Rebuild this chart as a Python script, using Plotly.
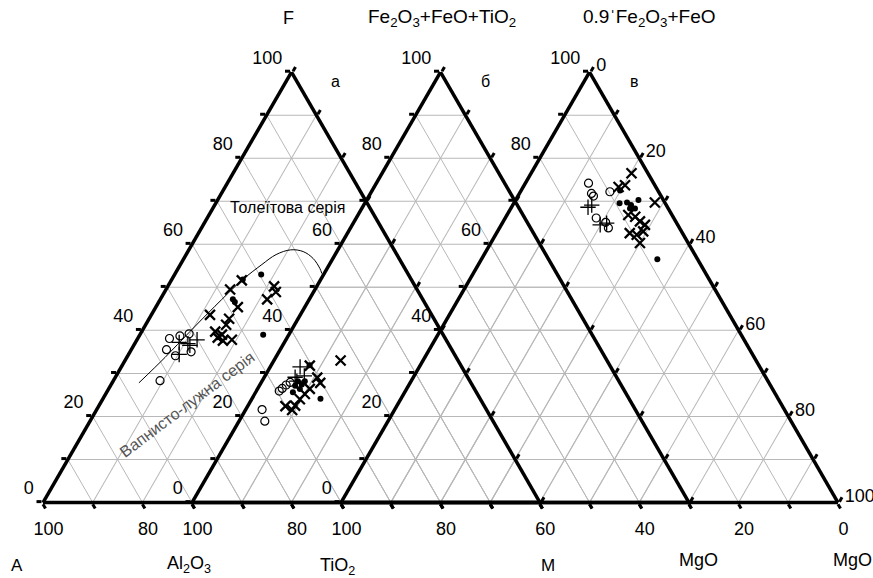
import plotly.graph_objects as go

W, H = 873, 578

# ---------------- data (ternary: a = top, b = bottom-left, c = bottom-right) ----------------
# Triangle "а": F (top), A (left), M (right)
a_circ_F = [38.1, 38.7, 39.2, 35.5, 34.1, 35.0, 28.3]
a_circ_A = [55.5, 53.1, 51.0, 57.4, 56.3, 52.7, 62.3]
a_circ_M = [6.4, 8.2, 9.8, 7.1, 9.6, 12.3, 9.4]

a_plus_F = [37.2, 36.9, 37.8, 34.4, 36.5]
a_plus_A = [54.0, 52.4, 50.1, 55.4, 52.2]
a_plus_M = [8.8, 10.7, 12.1, 10.2, 11.3]

a_x_F = [51.6, 49.5, 45.4, 43.6, 42.7, 41.3, 39.7, 38.3, 37.6, 37.8, 50.2, 48.9, 47.2, 39.0]
a_x_A = [34.2, 37.6, 38.1, 44.6, 41.2, 42.5, 45.5, 45.7, 45.0, 43.1, 28.4, 28.7, 31.3, 44.5]
a_x_M = [14.2, 12.9, 16.5, 11.8, 16.1, 16.2, 14.8, 16.0, 17.4, 19.1, 21.4, 22.4, 21.5, 16.5]

a_dot_F = [53.0, 47.2, 46.6, 39.0, 51.8]
a_dot_A = [29.6, 38.2, 38.1, 36.2, 33.9]
a_dot_M = [17.4, 14.6, 15.3, 24.8, 14.3]

# boundary line between tholeiitic and calc-alkaline series
curve_F = [27.8, 33.7, 39.7, 45.6, 51.6, 55.3, 57.6, 58.7, 58.3, 56.7, 54.4, 53.2]
curve_A = [66.8, 58.6, 50.6, 42.6, 34.2, 28.3, 24.3, 20.8, 18.5, 17.3, 17.1, 17.3]
curve_M = [5.4, 7.7, 9.7, 11.8, 14.2, 16.4, 18.1, 20.5, 23.2, 26.0, 28.5, 29.5]

# Triangle "б": Fe2O3+FeO+TiO2 (top), Al2O3 (left), MgO (right)
b_circ_T = [26.5, 27.3, 27.9, 21.6, 18.9, 25.9]
b_circ_L = [68.6, 67.4, 66.3, 75.1, 75.9, 69.5]
b_circ_R = [4.9, 5.3, 5.8, 3.3, 5.2, 4.6]

b_plus_T = [31.5, 29.1, 29.4, 28.2]
b_plus_L = [62.5, 64.7, 62.7, 64.8]
b_plus_R = [6.0, 6.2, 7.9, 7.0]

b_x_T = [31.8, 33.0, 29.0, 27.8, 22.4, 21.5, 24.0, 25.2, 26.4, 22.5]
b_x_L = [60.4, 53.6, 60.3, 60.3, 70.0, 69.1, 66.3, 64.7, 63.1, 68.0]
b_x_R = [7.8, 13.4, 10.7, 11.9, 7.6, 9.4, 9.7, 10.1, 10.5, 9.5]

b_dot_T = [28.2, 27.4, 27.1, 28.2, 25.6, 24.1, 31.9, 26.4]
b_dot_L = [64.6, 64.2, 65.7, 63.2, 66.9, 62.1, 60.4, 65.1]
b_dot_R = [7.2, 8.4, 7.2, 8.6, 7.5, 13.8, 7.7, 8.5]

# Triangle "в": 0.9*Fe2O3+FeO (top), TiO2 (left), MgO (right)
c_circ_T = [74.2, 71.8, 71.2, 72.2, 66.1, 63.8, 65.1]
c_circ_L = [13.1, 13.7, 13.6, 9.8, 15.6, 14.3, 14.2]
c_circ_R = [12.7, 14.5, 15.2, 18.0, 18.3, 21.9, 20.7]

c_plus_T = [69.1, 64.5, 64.9, 68.6]
c_plus_L = [15.0, 15.6, 14.1, 16.0]
c_plus_R = [15.9, 19.9, 21.0, 15.4]

c_x_T = [76.5, 73.7, 73.3, 69.7, 66.8, 66.4, 65.3, 64.5, 62.6, 62.2, 63.0, 60.3]
c_x_L = [3.3, 6.0, 7.5, 2.0, 8.8, 7.6, 7.2, 6.6, 10.6, 9.4, 7.7, 9.7]
c_x_R = [20.2, 20.3, 19.2, 28.3, 24.4, 26.0, 27.5, 28.9, 26.8, 28.4, 29.3, 30.0]

c_dot_T = [72.5, 69.5, 69.7, 69.1, 70.3, 68.3, 68.3, 56.5]
c_dot_L = [7.6, 9.2, 7.6, 7.1, 5.0, 6.7, 7.7, 8.1]
c_dot_R = [19.9, 21.3, 22.7, 23.8, 24.7, 25.0, 24.0, 35.4]

tick_vals = list(range(0, 101, 10))
tick_names = ["0", "", "20", "", "40", "", "60", "", "80", "", "100"]
bottom_shown = {"а": {80, 100}, "б": {80, 100}, "в": set(range(0, 101, 20))}

# left labels sit slightly above their ticks
left_labels = [t + "<br> " if t else "" for t in tick_names]
right_labels = list(tick_names)

def bottom_labels(key):
    return [t if (t and v in bottom_shown[key]) else ""
            for v, t in zip(tick_vals, tick_names)]

no_labels = [""] * 11

FONT = "Liberation Sans, Arial, sans-serif"

# ---------------- figure ----------------
fig = go.Figure()

# empty traces so that the grid-only subplots get drawn
for sub in ["ternary", "ternary2", "ternary3"]:
    fig.add_trace(go.Scatterternary(a=[], b=[], c=[], subplot=sub, showlegend=False,
                                    hoverinfo="skip"))

def add_set(sub, T, L, R, symbol, size, lw):
    fig.add_trace(go.Scatterternary(
        a=T, b=L, c=R, mode="markers", subplot=sub, showlegend=False,
        marker=dict(symbol=symbol, size=size, color="black",
                    line=dict(color="black", width=lw)),
        cliponaxis=False))

# data live on the overlay subplots (4,5,6) so they sit above every grid
for sub, sets in [
    ("ternary4", [(a_circ_F, a_circ_A, a_circ_M), (a_plus_F, a_plus_A, a_plus_M),
                  (a_x_F, a_x_A, a_x_M), (a_dot_F, a_dot_A, a_dot_M)]),
    ("ternary5", [(b_circ_T, b_circ_L, b_circ_R), (b_plus_T, b_plus_L, b_plus_R),
                  (b_x_T, b_x_L, b_x_R), (b_dot_T, b_dot_L, b_dot_R)]),
    ("ternary6", [(c_circ_T, c_circ_L, c_circ_R), (c_plus_T, c_plus_L, c_plus_R),
                  (c_x_T, c_x_L, c_x_R), (c_dot_T, c_dot_L, c_dot_R)]),
]:
    circ, plus, xs, dots = sets
    add_set(sub, *circ, "circle-open", 8, 1.2)
    add_set(sub, *plus, "cross-thin", 11, 1.3)
    add_set(sub, *xs, "x-thin", 10, 2.3)
    add_set(sub, *dots, "circle", 6, 0)

fig.add_trace(go.Scatterternary(
    a=curve_F, b=curve_A, c=curve_M, mode="lines", subplot="ternary4",
    line=dict(color="black", width=1, shape="spline"), showlegend=False))

TICKFONT = dict(family=FONT, size=18, color="black")

def grid_axis():
    return dict(min=0, showline=False, showgrid=True, gridcolor="#b8b8b8", gridwidth=1,
                tickmode="array", tickvals=tick_vals, ticks="",
                showticklabels=False, title=dict(text=""))


def grid_baxis(ticktext):
    # bottom labels: pushed a little further down by an invisible longer tick
    d = grid_axis()
    d.update(showticklabels=True, ticktext=ticktext, ticks="outside", ticklen=11,
             tickwidth=1, tickcolor="rgba(0,0,0,0)", tickfont=TICKFONT)
    return d


def line_axis(ticktext):
    return dict(min=0, showline=True, linewidth=3.5, linecolor="black",
                showgrid=False,
                tickmode="array", tickvals=tick_vals, ticktext=ticktext,
                showticklabels=any(ticktext),
                ticks="outside", ticklen=5, tickwidth=3, tickcolor="black",
                tickfont=TICKFONT,
                title=dict(text=""), layer="above traces")


side = 497.0
hgt = side * 3 ** 0.5 / 2
base = 502.5
y0 = (H - base) / H
y1 = (H - (base - hgt)) / H

def dom(x0):
    return dict(x=[x0 / W, (x0 + side) / W], y=[y0, y1])

common = dict(sum=100, bgcolor="rgba(0,0,0,0)")
fig.update_layout(
    width=W, height=H,
    margin=dict(l=0, r=0, t=0, b=0),
    paper_bgcolor="white", plot_bgcolor="white",
    showlegend=False,
    # grid layers (+ bottom tick labels)
    ternary=dict(domain=dom(43), aaxis=grid_axis(), baxis=grid_baxis(bottom_labels("а")),
                 caxis=grid_axis(), **common),
    ternary2=dict(domain=dom(192), aaxis=grid_axis(), baxis=grid_baxis(bottom_labels("б")),
                  caxis=grid_axis(), **common),
    ternary3=dict(domain=dom(341), aaxis=grid_axis(), baxis=grid_baxis(bottom_labels("в")),
                  caxis=grid_axis(), **common),
    # edges, ticks, side labels and data
    ternary4=dict(domain=dom(43), aaxis=line_axis(left_labels), baxis=line_axis(no_labels),
                  caxis=line_axis(no_labels), **common),
    ternary5=dict(domain=dom(192), aaxis=line_axis(left_labels), baxis=line_axis(no_labels),
                  caxis=line_axis(no_labels), **common),
    ternary6=dict(domain=dom(341), aaxis=line_axis(left_labels), baxis=line_axis(no_labels),
                  caxis=line_axis(right_labels), **common),
)

def ann(text, px, py, size=17, color="black", angle=0):
    fig.add_annotation(text=text, x=px / W, y=1 - py / H, xref="paper", yref="paper",
                       showarrow=False, xanchor="center", yanchor="middle",
                       textangle=angle,
                       font=dict(family=FONT, size=size, color=color))

ann("F", 288, 18, 18)
ann("Fe<sub>2</sub>O<sub>3</sub>+FeO+TiO<sub>2</sub>", 442, 18, 19)
ann("0.9ˈFe<sub>2</sub>O<sub>3</sub>+FeO", 649, 18, 19)
ann("а", 335, 81, 16)
ann("б", 485, 81, 16)
ann("в", 634, 81, 16)
ann("A", 17, 565)
ann("Al<sub>2</sub>O<sub>3</sub>", 189, 564, 18)
ann("TiO<sub>2</sub>", 337, 566, 18)
ann("M", 548, 565)
ann("MgO", 698, 560, 18)
ann("MgO", 852, 560, 18)
ann("Толеїтова серія", 287, 207, 16)
ann("Вапнисто-лужна серія", 187, 404, 16, "#555555", -37)

fig.write_html("out.html", config={"displayModeBar": False},
               post_script="document.body.style.margin='0';document.body.style.overflow='hidden';")
